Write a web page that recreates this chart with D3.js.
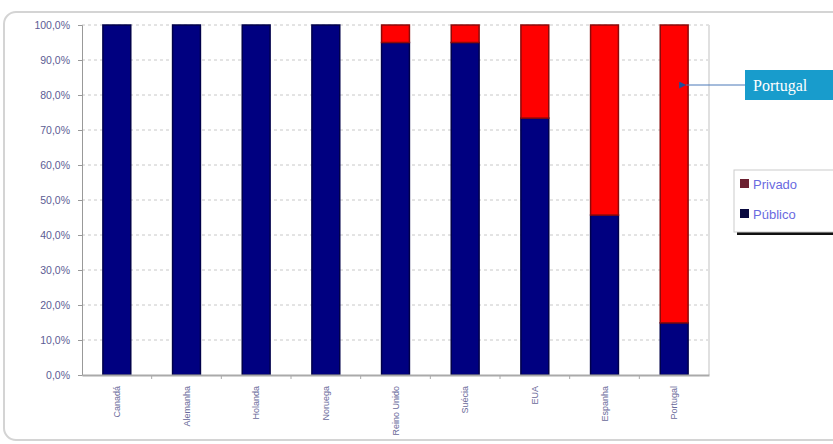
<!DOCTYPE html>
<html>
<head>
<meta charset="utf-8">
<script src="https://cdn.jsdelivr.net/npm/d3@7"></script>
<style>
  body { margin: 0; background: #fff; }
  .tick text { font-family: "Liberation Sans", Arial, sans-serif; }
</style>
</head>
<body>
<div class="chart"></div>
<script>
// data
var countries = ["Canadá", "Alemanha", "Holanda", "Noruega", "Reino Unido", "Suécia", "EUA", "Espanha", "Portugal"];
var publico = [100, 100, 100, 100, 95, 95, 73.4, 45.7, 14.9];
var privado = [0, 0, 0, 0, 5, 5, 26.6, 54.3, 85.1];
var seriesNames = ["Privado", "Público"];
var yTicks = [0, 10, 20, 30, 40, 50, 60, 70, 80, 90, 100];

var svgWidth = 833;
var svgHeight = 444;

var margin = {
  top: 25,
  right: 124,
  bottom: 69,
  left: 82
};

var width = svgWidth - margin.left - margin.right;
var height = svgHeight - margin.top - margin.bottom;

var svg = d3.select(".chart")
  .append("svg")
  .attr("width", svgWidth)
  .attr("height", svgHeight);

// outer frame
svg.append("rect")
  .attr("x", 4)
  .attr("y", 12)
  .attr("width", 840)
  .attr("height", 428)
  .attr("rx", 12)
  .attr("fill", "none")
  .attr("stroke", "#d4d4d4")
  .attr("stroke-width", 2);

var chartGroup = svg.append("g")
  .attr("transform", `translate(${margin.left}, ${margin.top})`);

// build stacked table
var table = countries.map(function(c, i) {
  return { pais: c, "Público": publico[i], "Privado": privado[i] };
});
var stacked = d3.stack().keys(["Público", "Privado"])(table);

var xScale = d3.scaleBand()
  .domain(countries)
  .range([0, width])
  .paddingInner(0.6)
  .paddingOuter(0.3);

var yScale = d3.scaleLinear()
  .domain([0, 100])
  .range([height, 0]);

// gridlines
chartGroup.append("g")
  .selectAll("line")
  .data(yTicks.slice(1))
  .enter()
  .append("line")
  .attr("x1", 0)
  .attr("x2", width)
  .attr("y1", d => yScale(d))
  .attr("y2", d => yScale(d))
  .attr("stroke", "#c8c8c8")
  .attr("stroke-dasharray", "3,3")
  .attr("stroke-width", 1);

// right edge of plot
chartGroup.append("line")
  .attr("x1", width).attr("x2", width)
  .attr("y1", 0).attr("y2", height)
  .attr("stroke", "#e0e0e0")
  .attr("stroke-width", 2);

var colors = { "Público": "#000080", "Privado": "#ff0000" };
var edges = { "Público": "#00004a", "Privado": "#8a0a0a" };

chartGroup.selectAll("g.serie")
  .data(stacked)
  .enter()
  .append("g")
  .attr("class", "serie")
  .attr("fill", d => colors[d.key])
  .attr("stroke", d => edges[d.key])
  .selectAll("rect")
  .data(d => d.filter(p => p[1] - p[0] > 0))
  .enter()
  .append("rect")
  .attr("x", d => xScale(d.data.pais))
  .attr("y", d => yScale(d[1]))
  .attr("width", xScale.bandwidth())
  .attr("height", d => yScale(d[0]) - yScale(d[1]))
  .attr("stroke-width", 1.5);

// y axis
var leftAxis = d3.axisLeft(yScale)
  .tickValues(yTicks)
  .tickSize(4)
  .tickFormat(d => d3.format(".1f")(d).replace(".", ",") + "%");

var yAxis = chartGroup.append("g").call(leftAxis);
yAxis.select(".domain").attr("stroke", "#999");
yAxis.selectAll(".tick line").attr("stroke", "#999");
yAxis.selectAll(".tick text")
  .attr("x", -12)
  .attr("fill", "#5c5c94")
  .style("font-size", "10.5px");

// x axis
var bottomAxis = d3.axisBottom(xScale).tickSize(0).tickSizeOuter(0);
var xAxis = chartGroup.append("g")
  .attr("transform", `translate(0, ${height})`)
  .call(bottomAxis);
xAxis.select(".domain").attr("stroke", "#aaa").attr("stroke-width", 2);
xAxis.selectAll(".tick text")
  .attr("transform", "rotate(-90)")
  .attr("text-anchor", "end")
  .attr("x", -11)
  .attr("y", 0)
  .attr("dy", "0.35em")
  .attr("fill", "#6a6a9a")
  .style("font-size", "9px");

// tick marks between categories
chartGroup.append("g")
  .selectAll("line")
  .data(countries.slice(1))
  .enter()
  .append("line")
  .attr("x1", d => xScale(d) - xScale.step() * xScale.paddingInner() / 2)
  .attr("x2", d => xScale(d) - xScale.step() * xScale.paddingInner() / 2)
  .attr("y1", height)
  .attr("y2", height + 4)
  .attr("stroke", "#aaa");

// legend
var legend = svg.append("g")
  .attr("transform", "translate(734, 170)");

legend.append("rect")
  .attr("x", 3).attr("y", 3)
  .attr("width", 110).attr("height", 62)
  .attr("fill", "#111");
legend.append("rect")
  .attr("width", 110).attr("height", 62)
  .attr("fill", "#fff")
  .attr("stroke", "#ccc");

legend.selectAll("g.item")
  .data(seriesNames)
  .enter()
  .append("g")
  .attr("class", "item")
  .attr("transform", (d, i) => `translate(6, ${14 + i * 30})`)
  .each(function(d) {
    var g = d3.select(this);
    g.append("rect")
      .attr("x", 0).attr("y", -5)
      .attr("width", 9).attr("height", 9)
      .attr("fill", d === "Privado" ? "#6b2030" : "#0a0a40");
    g.append("text")
      .attr("x", 13)
      .attr("y", 0)
      .attr("dy", "0.35em")
      .attr("fill", "#6a6adf")
      .style("font-family", "Liberation Sans, Arial, sans-serif")
      .style("font-size", "13px")
      .text(d);
  });

// Portugal callout
var lastBar = countries[countries.length - 1];
var arrowX = xScale(lastBar) + xScale.bandwidth();
var callY = 85;

svg.append("defs").append("marker")
  .attr("id", "arrow")
  .attr("viewBox", "0 0 10 10")
  .attr("refX", 0).attr("refY", 5)
  .attr("markerUnits", "userSpaceOnUse")
  .attr("markerWidth", 8).attr("markerHeight", 7)
  .attr("orient", "auto")
  .append("path")
  .attr("d", "M10,0 L0,5 L10,10 z")
  .attr("fill", "#1f4e9a");

svg.append("line")
  .attr("x1", 745)
  .attr("x2", margin.left + arrowX - 2)
  .attr("y1", callY).attr("y2", callY)
  .attr("stroke", "#4a78b8")
  .attr("stroke-width", 1)
  .attr("marker-end", "url(#arrow)");

svg.append("rect")
  .attr("x", 745).attr("y", 70)
  .attr("width", 92).attr("height", 30)
  .attr("fill", "#189ccc");

svg.append("text")
  .attr("x", 753).attr("y", 85)
  .attr("dy", "0.35em")
  .attr("fill", "#fff")
  .style("font-family", "Liberation Serif, serif")
  .style("font-size", "16px")
  .text("Portugal");
</script>
</body>
</html>
